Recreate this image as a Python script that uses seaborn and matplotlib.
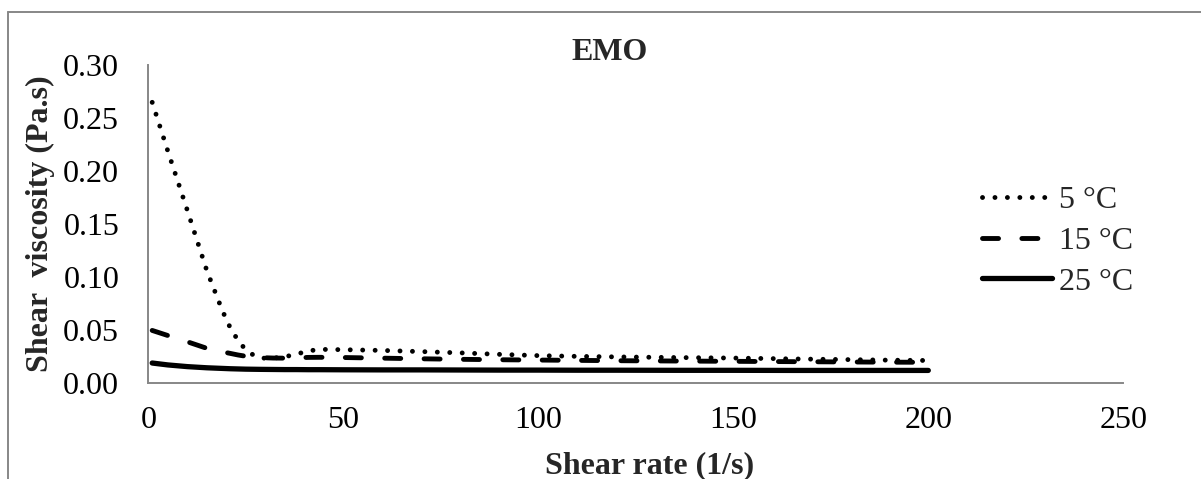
import matplotlib
matplotlib.use("Agg")
import matplotlib.pyplot as plt
from matplotlib.lines import Line2D
import numpy as np
import pandas as pd
import seaborn as sns

# Shear rate (1/s) at which viscosity was recorded
shear_rate = [1, 5, 10, 15, 17, 19, 21, 23, 25, 27, 29, 32, 35, 38, 41, 44,
              50, 60, 70, 80, 90, 100, 110, 120, 135, 150, 165, 180, 190, 200]

# Shear viscosity (Pa.s) per temperature
visc_5C = [0.265, 0.219, 0.163, 0.106, 0.087, 0.068, 0.052, 0.040, 0.031, 0.026,
           0.0232, 0.0232, 0.0245, 0.027, 0.0300, 0.0315, 0.0312, 0.0305, 0.0294,
           0.0282, 0.0268, 0.0256, 0.0249, 0.0244, 0.0238, 0.0233, 0.0225, 0.0218,
           0.0213, 0.0210]
visc_15C = [0.0494, 0.0446, 0.0387, 0.0325, 0.0308, 0.0292, 0.0277, 0.0262, 0.0250,
            0.0243, 0.0237, 0.0233, 0.0232, 0.0235, 0.0239, 0.0240, 0.0238, 0.0232,
            0.0226, 0.0221, 0.0217, 0.0214, 0.0211, 0.0208, 0.0205, 0.0202, 0.0199,
            0.0196, 0.0194, 0.0193]
visc_25C = [0.0186, 0.0168, 0.0152, 0.0141, 0.0138, 0.0135, 0.0132, 0.0130, 0.0128,
            0.0127, 0.0126, 0.0125, 0.0124, 0.0124, 0.0123, 0.0123, 0.0122, 0.0121,
            0.0121, 0.0120, 0.0119, 0.0119, 0.0118, 0.0118, 0.0117, 0.0117, 0.0116,
            0.0116, 0.0116, 0.0116]

series_labels = ["5 °C", "15 °C", "25 °C"]
x_ticks = [0, 50, 100, 150, 200, 250]
y_ticks = [0.00, 0.05, 0.10, 0.15, 0.20, 0.25, 0.30]

sns.set_style("white")
plt.rcParams["font.family"] = ["Liberation Serif", "DejaVu Serif"]
FS = 23
GRAY = "#878787"

W, H = 1201, 479
fig = plt.figure(figsize=(W / 100, H / 100), dpi=100)
ax = fig.add_axes([148.3 / W, 1 - 382.7 / H, 975 / W, 317.4 / H])

styles = [
    dict(lw=3.5, linestyle=(0, (0.01, 2.55)), dash_capstyle="round"),
    dict(lw=3.5, linestyle=(0, (3.3, 4.8)), dash_capstyle="round"),
    dict(lw=3.8, linestyle="-", solid_capstyle="round"),
]

for vals, st in zip([visc_5C, visc_15C, visc_25C], styles):
    df = pd.DataFrame({"shear": shear_rate, "visc": vals})
    sns.lineplot(data=df, x="shear", y="visc", ax=ax, color="black", **st)

ax.set_xlim(0, 250)
ax.set_ylim(0, 0.30)
ax.set_xticks(x_ticks)
ax.set_yticks(y_ticks)
ax.set_xticklabels([str(v) for v in x_ticks])
ax.set_yticklabels([f"{v:.2f}" for v in y_ticks])
ax.tick_params(axis="both", which="major", direction="out", length=7,
               width=1.4, color=GRAY, labelsize=FS, labelcolor="black")
ax.tick_params(axis="y", pad=14)
ax.tick_params(axis="x", pad=10)
ax.grid(False)
for side in ["top", "right"]:
    ax.spines[side].set_visible(False)
for side in ["left", "bottom"]:
    ax.spines[side].set_color(GRAY)
    ax.spines[side].set_linewidth(1.4)

ax.set_xlabel("Shear rate (1/s)", fontsize=FS, fontweight="bold", va="center")
ax.set_ylabel("Shear  viscosity (Pa.s)", fontsize=FS, fontweight="bold", va="center")
ax.xaxis.set_label_coords((650 - 148.3) / 975, (382.7 - 466) / 317.4)
ax.yaxis.set_label_coords((40 - 148.3) / 975, 0.5)

fig.text(610 / W, 1 - 53 / H, "EMO", fontsize=FS, fontweight="bold",
         ha="center", va="center")

handles = [Line2D([], [], color="black", **st) for st in styles]
ax.legend(handles, series_labels, loc="center left",
          bbox_to_anchor=(982 / W, 1 - 241 / H), bbox_transform=fig.transFigure,
          frameon=False, fontsize=FS, handlelength=2.2, handletextpad=0.2,
          borderpad=0, borderaxespad=0, labelspacing=0.36)

# chart-area border
fig.add_artist(Line2D([8.3 / W, 1], [1 - 11.5 / H, 1 - 11.5 / H],
                      transform=fig.transFigure, color=GRAY, lw=1.4))
fig.add_artist(Line2D([8.3 / W, 8.3 / W], [0, 1 - 11.5 / H],
                      transform=fig.transFigure, color=GRAY, lw=1.4))

fig.savefig("out.png", dpi=100)
